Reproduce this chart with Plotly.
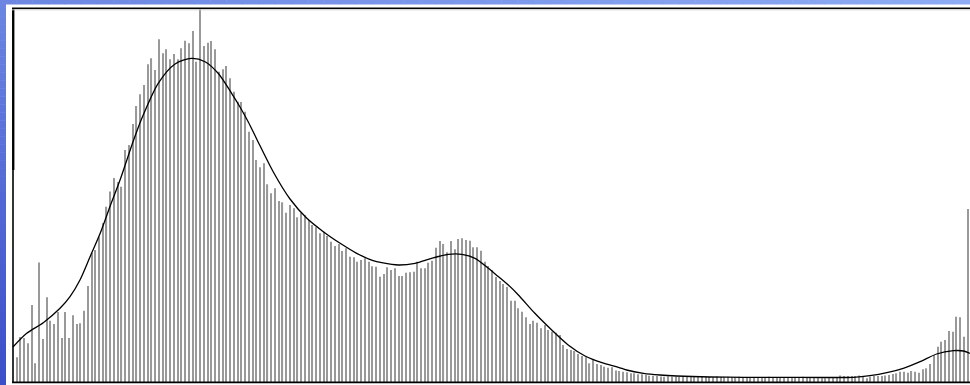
import plotly.graph_objects as go

# ---------------- data ----------------
bins = list(range(255))
counts = [
    25.7, 46, 45, 39.7, 78, 19.7, 120.5, 44, 85.7, 62.3,
    59, 71, 45, 71, 45, 67.7, 59, 59.7, 72.3, 97,
    130, 133, 146, 160, 176.3, 191.5, 205, 201, 196.3, 233,
    238, 259, 277, 288.7, 298, 318.7, 324.7, 313, 343.7, 329.7,
    333.7, 323.7, 329, 323.7, 334.7, 342.3, 339.7, 352, 321.3, 400,
    337, 340.3, 342, 333.7, 311.3, 313.7, 317, 304.7, 291.3, 281.3,
    281, 271.3, 251.3, 243, 223, 215.7, 219.7, 198.7, 189.7, 194.7,
    182, 180.7, 170.3, 178, 174.7, 165.7, 170.3, 168, 163, 158,
    155.7, 149.7, 151.3, 147, 141.3, 137, 139, 132, 134.7, 126.3,
    125.7, 121.3, 123, 124.7, 121.3, 116.7, 116.3, 106.3, 109, 115.7,
    113, 114.7, 107, 107, 110.3, 110.7, 111.3, 121.3, 114.7, 114.7,
    120.3, 122.3, 135.3, 142, 139, 130.7, 142, 133.7, 144, 144.7,
    143, 142.3, 135.7, 135.7, 132.3, 121.3, 117, 113, 106, 102,
    99, 96, 82.3, 82.3, 74.7, 71.3, 65.7, 59, 62.3, 60.3,
    54.7, 58, 53, 51.3, 50.3, 48, 38, 34, 33, 32,
    29, 27, 25.7, 19.7, 23, 19, 18, 16.3, 15.3, 15.7,
    12.5, 12, 11.3, 10.7, 9.7, 9.7, 8.7, 8.7, 8, 7.3,
    7.3, 7, 6.5, 6.3, 6.8, 6.2, 6.5, 6.0, 6.6, 6.4,
    6.1, 6.5, 6.3, 6.7, 6.2, 6.0, 5.8, 6.4, 6.1, 5.9,
    6.3, 6.0, 5.7, 6.2, 5.9, 5.6, 6.0, 5.8, 6.1, 5.7,
    5.9, 6.2, 5.8, 6.0, 5.6, 5.9, 6.1, 5.8, 6.0, 5.7,
    6.2, 5.9, 5.6, 5.3, 5.0, 4.7, 4.7, 5, 5.7, 5.5,
    7.5, 7, 7, 7, 7, 7.5, 7, 4.7, 6.3, 7,
    7, 7, 7.5, 8, 9, 9.7, 11.3, 11.3, 10.3, 12,
    11.3, 10.3, 13.7, 14.7, 19, 28, 36.3, 41.3, 43, 52,
    51.3, 66.3, 65.7, 46.3, 174,
]

curve_x = [-0.99, 2.67, 7.1, 11.57, 14.24, 16.9, 19.6, 22.3, 24.9, 27.6,
           31.14, 33.4, 37.8, 42.3, 46.7, 50.3, 53.8, 57.4, 59.64, 61.86,
           64.1, 68.54, 73.0, 77.5, 81.9, 86.4, 90.8, 95.2, 97.5, 101.9,
           106.4, 110.8, 115.3, 118.9, 122.4, 126.0, 127.8, 131.3, 134.0, 138.4,
           142.9, 147.3, 151.8, 156.3, 160.7, 162.9, 167.4, 171.8, 176.3, 185.2,
           194.1, 203.0, 215.4, 223.5, 227.9, 232.4, 236.8, 241.3, 245.7, 250.2,
           252.9, 254.6]
curve_y = [36, 49.7, 60.3, 74.7, 86.3, 103, 126.3, 149.7, 176.3, 203,
           242, 264.5, 299.7, 319, 324.7, 321.3, 309.7, 289.7, 276, 261,
           244, 211, 184, 164.7, 151.3, 139.7, 129.7, 122.3, 120.3, 118,
           119.7, 124.7, 128.7, 128.7, 124.7, 114.7, 109, 98, 88, 69.7,
           53, 38, 27, 20.3, 15.7, 13, 9.7, 8, 7, 6,
           5.7, 5.7, 5.5, 5.7, 7.3, 10.3, 14.7, 21.3, 29, 32.3,
           32, 29.7]

# ---------------- geometry ----------------
W, H = 970, 385
L, T, R, B = 12, 8, 0, 2
PW, PH = W - L - R, H - T - B


def px(xp):
    return (xp - L) / PW


def py(yp):
    return (H - B - yp) / PH


def lerp(c1, c2, t):
    return "rgb(%d,%d,%d)" % tuple(round(a + (b - a) * t) for a, b in zip(c1, c2))


shapes = []
# left blue strip: vertical gradient
top_c, bot_c, right_c = (108, 134, 226), (58, 78, 200), (142, 171, 244)
n = 48
for i in range(n):
    y0p = H * i / n
    y1p = H * (i + 1) / n + 0.5
    shapes.append(dict(type="rect", xref="paper", yref="paper",
                       x0=px(0), x1=px(6), y0=py(y1p), y1=py(y0p),
                       fillcolor=lerp(top_c, bot_c, (i + 0.5) / n),
                       line=dict(width=0), layer="below"))
# top blue strip: horizontal gradient
m = 60
for i in range(m):
    x0p = W * i / m
    x1p = W * (i + 1) / m + 0.5
    shapes.append(dict(type="rect", xref="paper", yref="paper",
                       x0=px(x0p), x1=px(x1p), y0=py(4.5), y1=py(0),
                       fillcolor=lerp(top_c, right_c, (i + 0.5) / m),
                       line=dict(width=0), layer="below"))
# frame (left, top, bottom); right side is cut off
shapes += [
    dict(type="line", xref="paper", yref="paper", x0=px(13), x1=px(13),
         y0=py(383), y1=py(8), line=dict(color="black", width=1.6)),
    dict(type="line", xref="paper", yref="paper", x0=px(13.3), x1=px(13.3),
         y0=py(170), y1=py(8), line=dict(color="black", width=2.2)),
    dict(type="line", xref="paper", yref="paper", x0=px(12), x1=px(970),
         y0=py(8.3), y1=py(8.3), line=dict(color="black", width=1.6)),
    dict(type="line", xref="paper", yref="paper", x0=px(12), x1=px(970),
         y0=py(9.8), y1=py(9.8), line=dict(color="#c8c8c8", width=1)),
    dict(type="line", xref="paper", yref="paper", x0=px(12), x1=px(970),
         y0=py(382.3), y1=py(382.3), line=dict(color="black", width=1.8)),
]

# ---------------- figure ----------------
fig = go.Figure()
fig.add_trace(go.Bar(x=bins, y=counts, width=0.3,
                     marker=dict(color="#999999", line=dict(width=0)),
                     hoverinfo="skip"))
fig.add_trace(go.Scatter(x=curve_x, y=curve_y, mode="lines",
                         line=dict(color="black", width=1.3, shape="spline", smoothing=0.8),
                         hoverinfo="skip"))

x_lo = (L - 16.7) / 3.744
x_hi = (W - R - 16.7) / 3.744
fig.update_layout(
    width=W, height=H,
    margin=dict(l=L, r=R, t=T, b=B, pad=0),
    paper_bgcolor="white", plot_bgcolor="white",
    showlegend=False,
    xaxis=dict(range=[x_lo, x_hi], visible=False, fixedrange=True),
    yaxis=dict(range=[0, PH], visible=False, fixedrange=True),
    shapes=shapes,
)
fig.write_html(
    "out.html",
    config={"displayModeBar": False},
    post_script="document.body.style.margin='0px';document.body.style.overflow='hidden';",
)
